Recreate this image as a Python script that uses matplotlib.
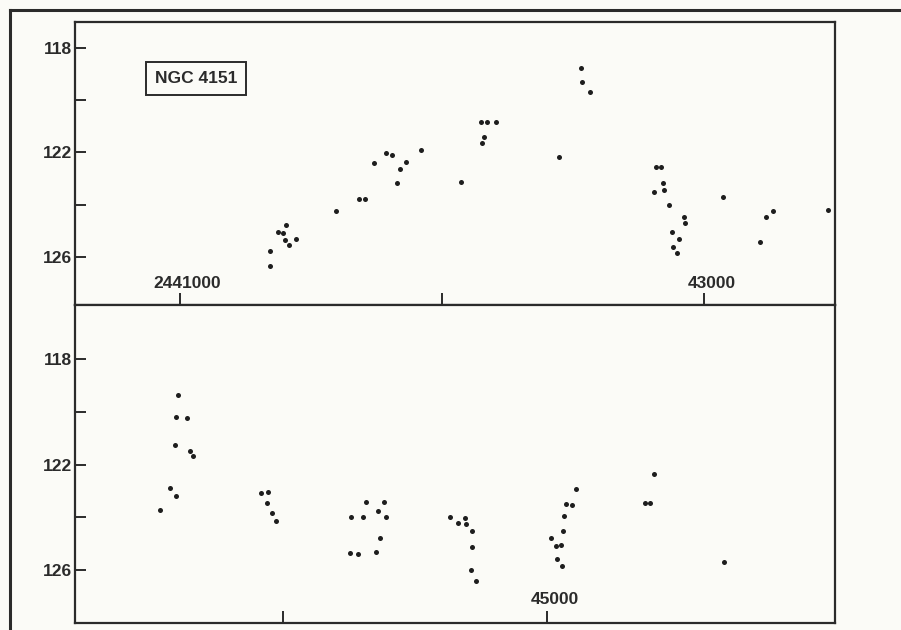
import matplotlib
matplotlib.use("Agg")
import matplotlib.pyplot as plt
from matplotlib.lines import Line2D
import matplotlib.transforms as mtransforms

plt.rcParams["font.family"] = ["Liberation Sans Narrow", "Liberation Sans", "DejaVu Sans"]

# Julian dates (JD - 2440000) and magnitudes
jd_top = [1346, 1344, 1373, 1394, 1406, 1401, 1417, 1442, 1595, 1682, 1706,
          1741, 1785, 1808, 1827, 1840, 1865, 1920, 2073, 2149, 2173, 2207,
          2162, 2154, 2446, 2532, 2534, 2565, 2818, 2835, 2844, 2809, 2847,
          2868, 2923, 2928, 2879, 2904, 2883, 2897, 3073, 3237, 3263, 3215,
          3472]
mag_top = [125.77, 126.34, 125.05, 125.10, 124.79, 125.36, 125.54, 125.32,
           124.26, 123.79, 123.79, 122.42, 122.01, 122.11, 123.17, 122.62,
           122.36, 121.90, 123.15, 120.85, 120.85, 120.85, 121.41, 121.65,
           122.18, 118.77, 119.29, 119.69, 122.57, 122.57, 123.17, 123.53,
           123.44, 124.03, 124.49, 124.70, 125.04, 125.31, 125.64, 125.84,
           123.70, 124.46, 124.26, 125.44, 124.22]

jd_bot = [3600, 3594, 3635, 3590, 3645, 3659, 3571, 3594, 3534, 3916, 3943,
          3938, 3957, 3972, 4256, 4300, 4313, 4380, 4357, 4389, 4366, 4254,
          4283, 4351, 4633, 4660, 4689, 4691, 4715, 4715, 4710, 4730, 5013,
          5033, 5052, 5037, 5054, 5058, 5063, 5069, 5094, 5110, 5371, 5389,
          5405, 5671]
mag_bot = [119.37, 120.18, 120.24, 121.27, 121.47, 121.66, 122.90, 123.20,
           123.71, 123.07, 123.05, 123.44, 123.83, 124.12, 123.98, 123.98,
           123.43, 123.41, 123.77, 124.00, 124.79, 125.35, 125.37, 125.31,
           123.97, 124.22, 124.02, 124.24, 124.53, 125.12, 125.98, 126.41,
           124.78, 125.07, 125.06, 125.56, 125.83, 124.50, 123.96, 123.50,
           123.54, 122.93, 123.45, 123.44, 122.37, 125.69]

y_major = [118, 122, 126]
y_minor = [120, 124]

top_xticks = [1000, 2000, 3000]
top_xlabels = ["2441000", "", "43000"]
bot_xticks = [4000, 5000]
bot_xlabels = ["", "45000"]

INK = "#2b2b2b"
PAPER = "#fbfbf7"


def style(ax, xlim, ylim, xticks, xlabels):
    ax.set_facecolor(PAPER)
    ax.set_xlim(*xlim)
    ax.set_ylim(*ylim)
    for s in ax.spines.values():
        s.set_color(INK)
        s.set_linewidth(1.6)
    ax.set_yticks(y_major)
    ax.set_yticks(y_minor, minor=True)
    ax.set_yticklabels([str(v) for v in y_major], fontsize=12.5,
                       fontweight="bold", color=INK)
    ax.tick_params(axis="y", which="both", direction="in", length=8,
                   width=1.4, color=INK, pad=2)
    ax.set_xticks(xticks)
    ax.set_xticklabels([])
    ax.tick_params(axis="x", direction="in", length=9, width=1.4, color=INK,
                   top=False)
    trans = mtransforms.blended_transform_factory(ax.transData, ax.transAxes)
    for x, lab in zip(xticks, xlabels):
        if lab:
            ax.text(x + 30, 0.05, lab, transform=trans, ha="center",
                    va="bottom", fontsize=12.5, fontweight="bold", color=INK)


fig = plt.figure(figsize=(9.01, 6.3), dpi=100, facecolor=PAPER)

ax1 = fig.add_axes([0.0832, 0.5159, 0.8435, 0.4492])
ax1.scatter(jd_top, mag_top, s=13, color="#1e1e1e", linewidths=0, zorder=3)
style(ax1, (600, 3500), (127.85, 117.0), top_xticks, top_xlabels)
ax1.text(0.159, 0.80, "NGC 4151", transform=ax1.transAxes, ha="center",
         va="center", fontsize=12.5, fontweight="bold", color=INK,
         bbox=dict(boxstyle="square,pad=0.5", facecolor="none",
                   edgecolor=INK, linewidth=1.4))

ax2 = fig.add_axes([0.0832, 0.0111, 0.8435, 0.5048])
ax2.scatter(jd_bot, mag_bot, s=13, color="#1e1e1e", linewidths=0, zorder=3)
style(ax2, (3210, 6090), (128.0, 115.95), bot_xticks, bot_xlabels)

# outer page frame
fig.add_artist(Line2D([0.011, 1.0], [0.984, 0.984], transform=fig.transFigure,
                      color=INK, linewidth=2.2))
fig.add_artist(Line2D([0.011, 0.011], [0.0, 0.984], transform=fig.transFigure,
                      color=INK, linewidth=2.2))

fig.savefig("out.png", dpi=100, facecolor=PAPER)
